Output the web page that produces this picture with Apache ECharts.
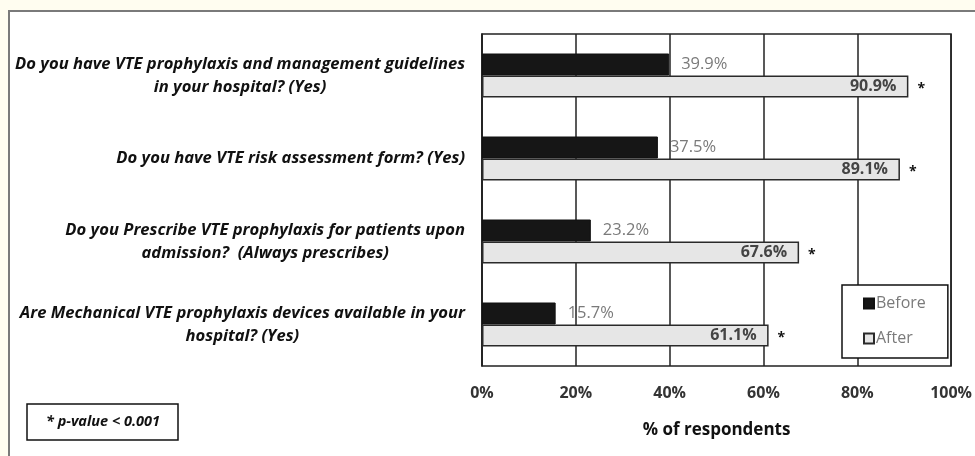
<!DOCTYPE html>
<html>
<head>
<meta charset="utf-8">
<script src="https://cdn.jsdelivr.net/npm/echarts@6/dist/echarts.min.js"></script>
<style>
html,body{margin:0;padding:0;background:#fffdf0;}
#c{width:975px;height:456px;}
</style>
</head>
<body>
<div id="c"></div>
<script>
const categories = [
  'Do you have VTE prophylaxis and management guidelines\nin your hospital? (Yes)',
  'Do you have VTE risk assessment form? (Yes)',
  'Do you Prescribe VTE prophylaxis for patients upon\nadmission?  (Always prescribes)',
  'Are Mechanical VTE prophylaxis devices available in your\nhospital? (Yes)'
];
const beforeValues = [39.9, 37.5, 23.2, 15.7];
const afterValues = [90.9, 89.1, 67.6, 61.1];
const significance = ['*', '*', '*', '*'];
const xTicks = [0, 20, 40, 60, 80, 100];
const seriesNames = ['Before', 'After'];
const footnote = '* p-value < 0.001';
const axisTitle = '% of respondents';

const FONT = '"Open Sans", "Liberation Sans", sans-serif';
const chart = echarts.init(document.getElementById('c'), null, {renderer: 'canvas'});
chart.setOption({
  animation: false,
  backgroundColor: '#fffdf0',
  graphic: [
    {type: 'rect', z: -10, shape: {x: 9, y: 11, width: 1000, height: 500},
     style: {fill: '#ffffff', stroke: '#7a7a7a', lineWidth: 2}},
    {type: 'rect', z: 10, shape: {x: 27, y: 404, width: 151, height: 36},
     style: {fill: '#ffffff', stroke: '#111', lineWidth: 1.5}},
    {type: 'text', z: 11, x: 103, y: 422,
     style: {text: footnote, fill: '#111', font: 'italic bold 14.5px ' + FONT, align: 'center', verticalAlign: 'middle'}}
  ],
  grid: {left: 482, top: 34, width: 474, height: 332, show: true, borderColor: '#222', borderWidth: 1.5, backgroundColor: '#fff'},
  legend: {
    data: seriesNames,
    orient: 'vertical', left: 842, top: 285,
    padding: [8, 22, 9, 21],
    itemGap: 14, itemWidth: 10, itemHeight: 10,
    backgroundColor: '#fff', borderColor: '#111', borderWidth: 1.5,
    icon: 'rect',
    textStyle: {color: '#7a7a7a', fontSize: 16, fontFamily: FONT, padding: [0, 0, 0, -3], lineHeight: 21}
  },
  xAxis: {
    type: 'value', min: xTicks[0], max: xTicks[xTicks.length - 1], interval: xTicks[1] - xTicks[0],
    axisLine: {show: false}, axisTick: {show: false},
    splitLine: {show: true, lineStyle: {color: '#222', width: 1.5}},
    axisLabel: {formatter: '{value}%', color: '#333', fontWeight: 'bold', fontSize: 16, fontFamily: FONT, margin: 19},
    name: axisTitle, nameLocation: 'middle', nameGap: 56,
    nameTextStyle: {color: '#111', fontWeight: 'bold', fontSize: 17, fontFamily: FONT}
  },
  yAxis: {
    type: 'category', data: categories, inverse: true,
    axisLine: {show: true, lineStyle: {color: '#222', width: 1.5}},
    axisTick: {show: false},
    axisLabel: {
      margin: 17, align: 'right',
      formatter: function (v) { return v.split('\n').map(l => '{c|' + l + '}').join('\n'); },
      rich: {c: {align: 'center', color: '#111', fontWeight: 'bold', fontStyle: 'italic', fontSize: 16.6, fontFamily: FONT, lineHeight: 23}}
    }
  },
  series: [
    {
      name: seriesNames[0], type: 'bar', data: beforeValues, barWidth: 22, barGap: '0%',
      itemStyle: {color: '#161616', borderColor: '#111', borderWidth: 1},
      label: {show: true, position: 'right', distance: 12, formatter: p => p.value.toFixed(1) + '%',
              color: '#7a7a7a', fontSize: 16.5, fontFamily: FONT}
    },
    {
      name: seriesNames[1], type: 'bar', data: afterValues, barWidth: 22, stack: 'after',
      itemStyle: {color: '#e6e6e6', borderColor: '#2a2a2a', borderWidth: 1.5},
      label: {show: true, position: 'insideRight', distance: 12, formatter: p => p.value.toFixed(1) + '%',
              color: '#444', fontWeight: 'bold', fontSize: 16, fontFamily: FONT}
    },
    {
      name: 'sig', type: 'bar', stack: 'after', barWidth: 22, barGap: '0%',
      data: significance.map(() => 0),
      itemStyle: {color: 'rgba(0,0,0,0)'},
      label: {show: true, position: 'right', distance: 9, offset: [0, 3], formatter: p => significance[p.dataIndex],
              color: '#111', fontWeight: 'bold', fontSize: 14, fontFamily: FONT}
    }
  ]
});
</script>
</body>
</html>
